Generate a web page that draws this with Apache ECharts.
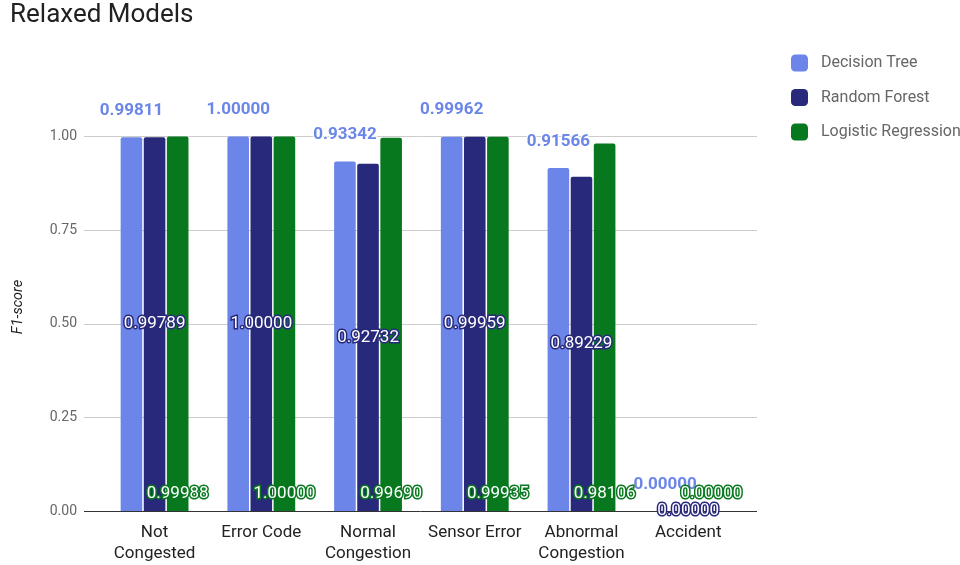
<!DOCTYPE html>
<html>
<head>
<meta charset="utf-8">
<title>Relaxed Models</title>
<script src="https://cdn.jsdelivr.net/npm/echarts@6/dist/echarts.min.js"></script>
<style>
  html, body { margin: 0; padding: 0; background: #fff; }
  #chart { width: 960px; height: 565px; }
</style>
</head>
<body>
<div id="chart"></div>
<script>
// Traffic-state categories on the x axis
const categories = ['Not\nCongested', 'Error Code', 'Normal\nCongestion', 'Sensor Error', 'Abnormal\nCongestion', 'Accident'];

// F1-scores per model
const decisionTree = [0.99811, 1.00000, 0.93342, 0.99962, 0.91566, 0.00000];
const randomForest = [0.99789, 1.00000, 0.92732, 0.99959, 0.89229, 0.00000];
const logisticRegression = [0.99988, 1.00000, 0.99690, 0.99935, 0.98106, 0.00000];

// Y-axis ticks
const yTicks = [0, 0.25, 0.5, 0.75, 1.0];

const FONT = 'Roboto, "Noto Sans", sans-serif';
const COLORS = { dt: '#6b86e8', rf: '#29297b', lr: '#08781f' };

const chart = echarts.init(document.getElementById('chart'), null, { renderer: 'canvas' });

const fmt = p => p.value.toFixed(5);

chart.setOption({
  animation: false,
  backgroundColor: '#ffffff',
  textStyle: { fontFamily: FONT },
  title: {
    text: 'Relaxed Models',
    left: 5,
    top: -3,
    textStyle: { fontFamily: FONT, fontSize: 26, fontWeight: 'normal', color: '#212121' }
  },
  legend: {
    orient: 'vertical',
    left: 791,
    top: 54.5,
    padding: 0,
    icon: 'roundRect',
    itemWidth: 17,
    itemHeight: 17,
    itemGap: 17.5,
    textStyle: { fontFamily: FONT, fontSize: 16, color: '#666', padding: [0, 0, 0, 8] },
    data: ['Decision Tree', 'Random Forest', 'Logistic Regression']
  },
  graphic: [{
    type: 'text',
    x: 18,
    y: 307,
    rotation: Math.PI / 2,
    style: {
      text: 'F1-score',
      font: 'italic 14.5px ' + FONT,
      fill: '#222',
      align: 'center',
      verticalAlign: 'middle'
    }
  }],
  grid: [
    // full-width frame carrying the value gridlines and tick labels
    { left: 84, right: 203, top: 136.5, bottom: 54 },
    // category band for the bars
    { left: 101.2, width: 640.4, top: 136.5, bottom: 54 }
  ],
  xAxis: [
    { gridIndex: 0, type: 'value', show: false, min: 0, max: 1 },
    {
      gridIndex: 1,
      type: 'category',
      data: categories,
      axisLine: { show: false },
      axisTick: { show: false },
      axisLabel: { margin: 11, fontFamily: FONT, fontSize: 17, color: '#222', lineHeight: 21, interval: 0 }
    }
  ],
  yAxis: [
    {
      gridIndex: 0,
      type: 'value',
      min: yTicks[0],
      max: yTicks[yTicks.length - 1],
      interval: 0.25,
      axisLine: { show: false },
      axisTick: { show: false },
      axisLabel: { margin: 7, fontFamily: FONT, fontSize: 14, color: '#666', formatter: v => v.toFixed(2) },
      splitLine: { lineStyle: { color: ['#333', '#ccc', '#ccc', '#ccc', '#ccc'], width: 1 } }
    },
    {
      gridIndex: 1,
      type: 'value',
      min: yTicks[0],
      max: yTicks[yTicks.length - 1],
      show: false,
      splitLine: { show: false }
    }
  ],
  series: [
    {
      name: 'Decision Tree',
      type: 'bar',
      xAxisIndex: 1,
      yAxisIndex: 1,
      data: decisionTree,
      barWidth: 21.6,
      barGap: '7%',
      itemStyle: { color: COLORS.dt, borderRadius: [2, 2, 0, 0] },
      label: {
        show: true,
        position: 'top',
        distance: 18,
        formatter: fmt,
        fontFamily: FONT,
        fontSize: 17,
        fontWeight: 'bold',
        color: COLORS.dt,
        textBorderColor: '#fff',
        textBorderWidth: 2
      }
    },
    {
      name: 'Random Forest',
      type: 'bar',
      xAxisIndex: 1,
      yAxisIndex: 1,
      data: randomForest,
      barWidth: 21.6,
      barGap: '7%',
      itemStyle: { color: COLORS.rf, borderRadius: [2, 2, 0, 0] },
      label: {
        show: true,
        position: 'inside',
        formatter: fmt,
        fontFamily: FONT,
        fontSize: 17,
        color: '#fff',
        textBorderColor: COLORS.rf,
        textBorderWidth: 3
      }
    },
    {
      name: 'Logistic Regression',
      type: 'bar',
      xAxisIndex: 1,
      yAxisIndex: 1,
      data: logisticRegression,
      barWidth: 21.6,
      barGap: '7%',
      itemStyle: { color: COLORS.lr, borderRadius: [2, 2, 0, 0] },
      label: {
        show: true,
        position: 'insideBottom',
        distance: 9,
        formatter: fmt,
        fontFamily: FONT,
        fontSize: 17,
        color: '#fff',
        textBorderColor: COLORS.lr,
        textBorderWidth: 3
      }
    }
  ]
});
</script>
</body>
</html>
